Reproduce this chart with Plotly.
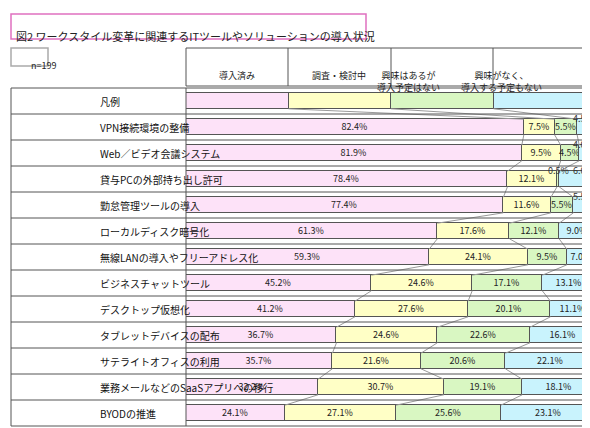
import plotly.graph_objects as go

categories = ["凡例", "VPN接続環境の整備", "Web／ビデオ会議システム", "貸与PCの外部持ち出し許可",
              "勤怠管理ツールの導入", "ローカルディスク暗号化", "無線LANの導入やフリーアドレス化",
              "ビジネスチャットツール", "デスクトップ仮想化", "タブレットデバイスの配布",
              "サテライトオフィスの利用", "業務メールなどのSaaSアプリへの移行", "BYODの推進"]
series_names = ["導入済み", "調査・検討中", "興味はあるが<br>導入予定はない", "興味がなく、<br>導入する予定もない"]
s1 = [25, 82.4, 81.9, 78.4, 77.4, 61.3, 59.3, 45.2, 41.2, 36.7, 35.7, 32.2, 24.1]
s2 = [25, 7.5, 9.5, 12.1, 11.6, 17.6, 24.1, 24.6, 27.6, 24.6, 21.6, 30.7, 27.1]
s3 = [25, 5.5, 4.5, 0.5, 5.5, 12.1, 9.5, 17.1, 20.1, 22.6, 20.6, 19.1, 25.6]
s4 = [25, 4.5, 4.0, 6.0, 5.5, 9.0, 7.0, 13.1, 11.1, 16.1, 22.1, 18.1, 23.1]
colors = ["#fde2f8", "#ffffc6", "#d9f7c2", "#c9f3fd"]
FONT = "Noto Sans CJK JP"
W, H = 590, 428

def px(x): return x / W
def py(y): return 1 - y / H

fig = go.Figure()
series = [s1, s2, s3, s4]
n = len(categories)
ys = list(range(n))

# connector lines
cums = []
for i in range(n):
    c, acc = [], 0
    for s in series[:3]:
        acc += s[i]; c.append(acc)
    cums.append(c)
for i in range(n - 1):
    for k in range(3):
        fig.add_trace(go.Scatter(x=[cums[i][k], cums[i + 1][k]], y=[i + 0.3, i + 0.7],
                                 mode="lines", line=dict(color="#999999", width=1),
                                 hoverinfo="skip", showlegend=False))

for k, s in enumerate(series):
    texts = []
    for i, v in enumerate(s):
        if i == 0:
            texts.append("")
        elif v < 4.5 or (k == 3 and i <= 4) or (k == 2 and v < 1):
            texts.append("")
        else:
            texts.append(f"{v:.1f}%")
    fig.add_trace(go.Bar(x=s, y=ys, orientation="h", name=series_names[k],
                         marker=dict(color=colors[k], line=dict(color="#555555", width=1)),
                         width=0.62, text=texts, textposition="inside", insidetextanchor="middle",
                         textangle=0, textfont=dict(size=9, color="#222", family=FONT),
                         constraintext="none", showlegend=False))

# small outside labels
for i in range(1, 5):
    fig.add_annotation(x=100, y=i - 0.32, text=f"{s4[i]:.1f}%", showarrow=False, xanchor="right",
                       font=dict(size=9, color="#333", family=FONT))
fig.add_annotation(x=cums[3][1] + 0.3, y=3 - 0.32, text=f"{s3[3]:.1f}%", showarrow=False,
                   font=dict(size=9, color="#333", family=FONT))

# row labels
for i, c in enumerate(categories):
    fig.add_annotation(x=px(90), xref="paper", y=i, yref="y", text=c, showarrow=False,
                       font=dict(size=10, color="#111", family=FONT))

shapes = []
line = dict(color="#555555", width=1)
# title box
shapes.append(dict(type="rect", xref="paper", yref="paper", x0=px(3), x1=px(358), y0=py(31), y1=py(6),
                   line=dict(color="#e070c0", width=1.5), fillcolor="rgba(0,0,0,0)"))
shapes.append(dict(type="rect", xref="paper", yref="paper", x0=px(3), x1=px(40), y0=py(58), y1=py(40),
                   line=dict(color="#aaaaaa", width=1.5)))
# header
shapes.append(dict(type="rect", xref="paper", yref="paper", x0=px(178), x1=px(588), y0=py(78), y1=py(40), line=line))
for xv in [280, 383, 485]:
    shapes.append(dict(type="line", xref="paper", yref="paper", x0=px(xv), x1=px(xv), y0=py(78), y1=py(40), line=line))
# table rows
shapes.append(dict(type="rect", xref="paper", yref="paper", x0=px(3), x1=px(588), y0=py(418), y1=py(80), line=line))
shapes.append(dict(type="line", xref="paper", yref="paper", x0=px(178), x1=px(178), y0=py(418), y1=py(80), line=line))
for i in range(1, n):
    shapes.append(dict(type="line", xref="paper", yref="paper", x0=px(3), x1=px(588),
                       y0=py(80 + 26 * i), y1=py(80 + 26 * i), line=line))
fig.update_layout(shapes=shapes)

fig.add_annotation(x=px(6), y=py(18), xref="paper", yref="paper", xanchor="left", showarrow=False,
                   text="図2 ワークスタイル変革に関連するITツールやソリューションの導入状況",
                   font=dict(size=11, color="#222", family=FONT))
fig.add_annotation(x=px(21), y=py(49), xref="paper", yref="paper", showarrow=False, text="n=199",
                   font=dict(size=9, color="#222", family=FONT))
hx = [229, 331, 434, 536]
for k, t in enumerate(series_names):
    fig.add_annotation(x=px(hx[k]), y=py(59), xref="paper", yref="paper", showarrow=False, text=t,
                       font=dict(size=9, color="#222", family=FONT))

fig.update_layout(width=W, height=H, margin=dict(l=0, r=0, t=0, b=0), barmode="stack",
                  plot_bgcolor="white", paper_bgcolor="white", bargap=0,
                  xaxis=dict(domain=[px(178), px(588)], range=[0, 100], visible=False, fixedrange=True),
                  yaxis=dict(domain=[py(418), py(80)], range=[n - 0.5, -0.5], visible=False))
fig.write_html("out.html")
